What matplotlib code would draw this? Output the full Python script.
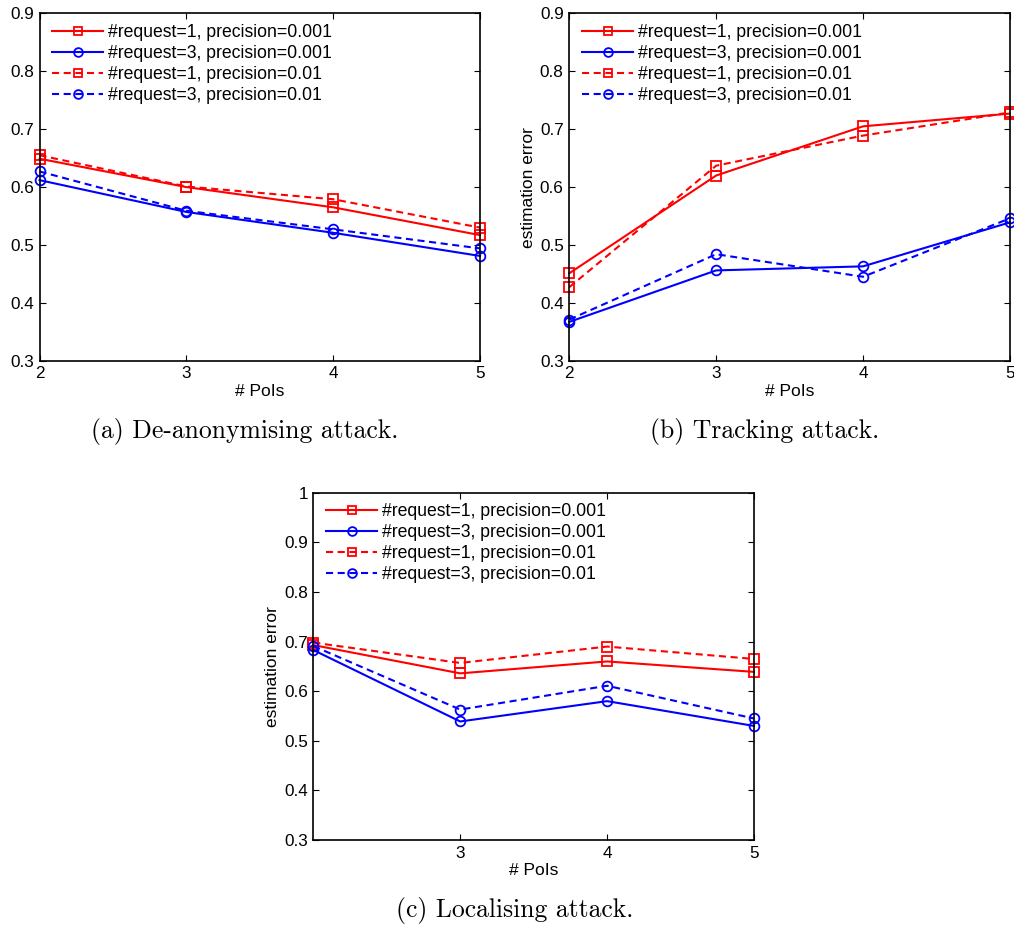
import matplotlib
matplotlib.use("Agg")
import matplotlib.pyplot as plt

plt.rcParams['font.family'] = ['Liberation Sans', 'DejaVu Sans']

x_pois = [2, 3, 4, 5]
labels = ["#request=1, precision=0.001", "#request=3, precision=0.001",
          "#request=1, precision=0.01", "#request=3, precision=0.01"]

# (a) De-anonymising attack
a_r1_p001 = [0.649, 0.600, 0.565, 0.517]
a_r3_p001 = [0.612, 0.557, 0.521, 0.481]
a_r1_p01 = [0.655, 0.601, 0.579, 0.530]
a_r3_p01 = [0.627, 0.559, 0.527, 0.494]

# (b) Tracking attack
b_r1_p001 = [0.451, 0.620, 0.705, 0.727]
b_r3_p001 = [0.367, 0.456, 0.463, 0.539]
b_r1_p01 = [0.427, 0.637, 0.689, 0.729]
b_r3_p01 = [0.371, 0.484, 0.445, 0.546]

# (c) Localising attack
c_r1_p001 = [0.693, 0.636, 0.660, 0.639]
c_r3_p001 = [0.683, 0.539, 0.580, 0.530]
c_r1_p01 = [0.698, 0.657, 0.690, 0.665]
c_r3_p01 = [0.691, 0.563, 0.611, 0.545]

captions = ["(a) De-anonymising attack.", "(b) Tracking attack.", "(c) Localising attack."]

fig = plt.figure(figsize=(10.14, 9.31), dpi=100)

def panel(rect, series, ylim, yticks, xticks, ylabel):
    ax = fig.add_axes(rect)
    styles = [('r', '-', 's'), ('b', '-', 'o'), ('r', '--', 's'), ('b', '--', 'o')]
    for (c, ls, m), ys, lab in zip(styles, series, labels):
        kw = {}
        if ls == '--':
            kw['dashes'] = (3.4, 2.2)
        ax.plot(x_pois, ys, color=c, linestyle=ls, marker=m,
                markersize=6.5 if m == 's' else 7, markerfacecolor='none',
                markeredgewidth=1.3, linewidth=1.5, label=lab, clip_on=False, **kw)
    ax.set_xlim(2, 5)
    ax.set_ylim(*ylim)
    ax.set_xticks(xticks)
    ax.set_yticks(yticks)
    ax.set_yticklabels([('%g' % v) for v in yticks])
    ax.tick_params(direction='in', top=True, right=True, labelsize=12.3,
                   length=4, width=0.8, pad=4)
    for s in ax.spines.values():
        s.set_linewidth(1.2)
    ax.set_xlabel('# PoIs', fontsize=12.5, labelpad=2)
    if ylabel:
        ax.set_ylabel('estimation error', fontsize=12.5, labelpad=3)
    ax.legend(loc='upper left', frameon=False, fontsize=12.7, markerscale=0.9,
              handlelength=2.9, handletextpad=0.25, labelspacing=0.22,
              borderaxespad=0.2, bbox_to_anchor=(0.005, 1.0))
    return ax

yt1 = [0.3, 0.4, 0.5, 0.6, 0.7, 0.8, 0.9]
yt3 = [0.3, 0.4, 0.5, 0.6, 0.7, 0.8, 0.9, 1.0]

panel([0.039, 0.6126, 0.4344, 0.3729], [a_r1_p001, a_r3_p001, a_r1_p01, a_r3_p01],
      (0.3, 0.9), yt1, [2, 3, 4, 5], False)
panel([0.5614, 0.6126, 0.4346, 0.3729], [b_r1_p001, b_r3_p001, b_r1_p01, b_r3_p01],
      (0.3, 0.9), yt1, [2, 3, 4, 5], True)
panel([0.309, 0.0977, 0.4346, 0.373], [c_r1_p001, c_r3_p001, c_r1_p01, c_r3_p01],
      (0.3, 1.0), yt3, [3, 4, 5], True)

cap_font = dict(fontsize=18.5, family=['cmr10', 'DejaVu Serif'], ha='center', va='center')
fig.text(245 / 1014, 1 - 432 / 931, captions[0], **cap_font)
fig.text(765 / 1014, 1 - 432 / 931, captions[1], **cap_font)
fig.text(515 / 1014, 1 - 910 / 931, captions[2], **cap_font)

fig.savefig('out.png', dpi=100)
